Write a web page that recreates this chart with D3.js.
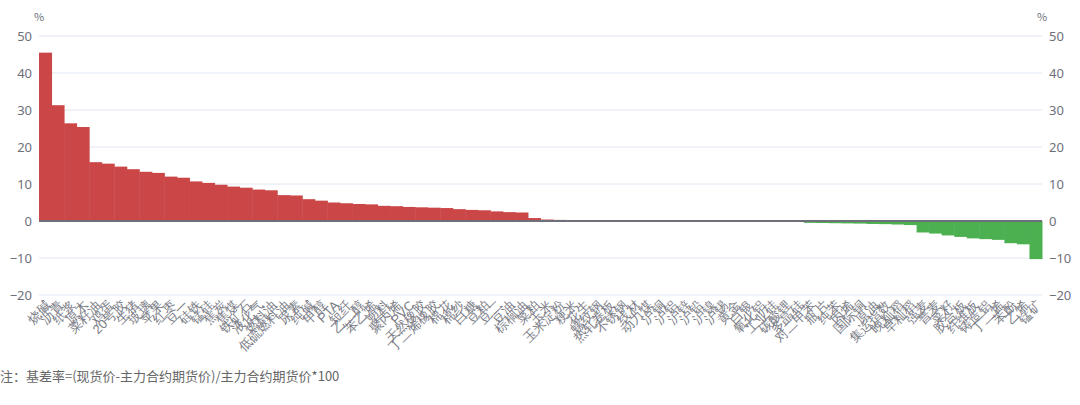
<!DOCTYPE html>
<html><head><meta charset="utf-8">
<script src="https://cdn.jsdelivr.net/npm/d3@7"></script>
<style>
html,body{margin:0;padding:0;background:#fff;}
svg{display:block;font-family:"Noto Sans CJK SC","Noto Sans",sans-serif;}
</style></head>
<body><svg id="c" width="1080" height="405"></svg>
<script>
const categories = ["烧碱","沥青","纸浆","原木","菜籽油","鸡蛋","20号胶","生猪","玻璃","苹果","红枣","豆一","硅铁","锰硅","焦炭","焦煤","铁矿石","液化气","燃料油","低硫燃料油","尿素","纯碱","甲醇","PTA","短纤","乙二醇","苯乙烯","塑料","聚丙烯","PVC","天然橡胶","丁二烯橡胶","棉花","棉纱","白糖","豆粕","豆二","豆油","棕榈油","菜粕","玉米","玉米淀粉","粳米","花生","螺纹钢","热轧卷板","不锈钢","线材","动力煤","沪铜","沪铝","沪锌","沪铅","沪镍","沪锡","黄金","白银","氧化铝","工业硅","碳酸锂","多晶硅","对二甲苯","瓶片","纯苯","丙烯","国际铜","原油","集运指数","晚籼稻","早籼稻","强麦","普麦","菜籽","胶合板","纤维板","铸造铝","丁二烯","苯酚","乙烯","锰矿"];
const basisRate = [45.5,31.3,26.4,25.4,15.9,15.5,14.7,14.0,13.3,13.0,12.0,11.7,10.7,10.3,9.8,9.3,9.0,8.5,8.3,7.0,6.9,5.9,5.5,5.0,4.8,4.6,4.5,4.1,4.0,3.8,3.7,3.6,3.5,3.2,3.0,2.9,2.6,2.4,2.3,0.8,0.4,0.3,
0.15,0.12,0.1,0.08,0.06,0.05,0.04,0.03,0.02,0.02,0.01,0.01,0,0,-0.01,
-0.05,-0.12,-0.15,-0.2,-0.5,-0.55,-0.6,-0.65,-0.7,-0.8,-0.85,-0.95,-1.1,
-3.1,-3.4,-3.9,-4.3,-4.7,-4.9,-5.1,-6.0,-6.3,-10.3];
const yTicks = [-20,-10,0,10,20,30,40,50];
const unitLabel = "%";
const noteText = "注：基差率=(现货价-主力合约期货价)/主力合约期货价*100";

const svg = d3.select("#c");
const L = 39, R = 1042, T = 36, B = 295;
const x = d3.scaleBand().domain(categories).range([L, R]).padding(0);
const y = d3.scaleLinear().domain([-20, 50]).range([B, T]);
const axisColor = "#6E7079";

// grid lines
svg.append("g").selectAll("line").data(yTicks).join("line")
  .attr("x1", L).attr("x2", R).attr("y1", d => y(d)).attr("y2", d => y(d))
  .attr("stroke", "#E0E6F1").attr("stroke-width", 1);

// left axis
const leftAxis = d3.axisLeft(y).tickValues(yTicks).tickSize(0).tickPadding(7);
const gl = svg.append("g").attr("transform", `translate(${L},0)`).call(leftAxis);
gl.select(".domain").remove();
gl.selectAll("text").attr("fill", axisColor).style("font-size", "13px").style("font-family", "'Noto Sans','DejaVu Sans',sans-serif");
const rightAxis = d3.axisRight(y).tickValues(yTicks).tickSize(0).tickPadding(7);
const gr = svg.append("g").attr("transform", `translate(${R},0)`).call(rightAxis);
gr.select(".domain").remove();
gr.selectAll("text").attr("fill", axisColor).style("font-size", "13px").style("font-family", "'Noto Sans','DejaVu Sans',sans-serif");

// units
svg.append("text").attr("x", L).attr("y", 21).attr("text-anchor", "middle").attr("fill", axisColor).style("font-size", "11px").text(unitLabel);
svg.append("text").attr("x", R).attr("y", 21).attr("text-anchor", "middle").attr("fill", axisColor).style("font-size", "11px").text(unitLabel);

// bars
svg.append("g").selectAll("rect").data(basisRate).join("rect")
  .attr("x", (d, i) => x(categories[i]))
  .attr("width", x.bandwidth() + 0.5)
  .attr("y", d => y(Math.max(0, d)))
  .attr("height", d => Math.abs(y(d) - y(0)))
  .attr("fill", d => d >= 0 ? "#cb4747" : "#4caf50");

// zero line
svg.append("line").attr("x1", L).attr("x2", R).attr("y1", y(0)).attr("y2", y(0))
  .attr("stroke", axisColor).attr("stroke-width", 2);

// category labels
const bottomAxis = d3.axisBottom(x).tickSize(0).tickPadding(0);
const gb = svg.append("g").attr("transform", `translate(0,${B})`).call(bottomAxis);
gb.select(".domain").remove();
gb.selectAll("text")
  .attr("fill", "#7a7c86").style("font-size", "13px")
  .attr("text-anchor", "end").attr("dy", "0.35em")
  .attr("transform", "translate(3,8) rotate(-45)");

// note
svg.append("text").attr("x", 0).attr("y", 381).attr("fill", "#666").style("font-size", "13px").text(noteText);
</script></body></html>
